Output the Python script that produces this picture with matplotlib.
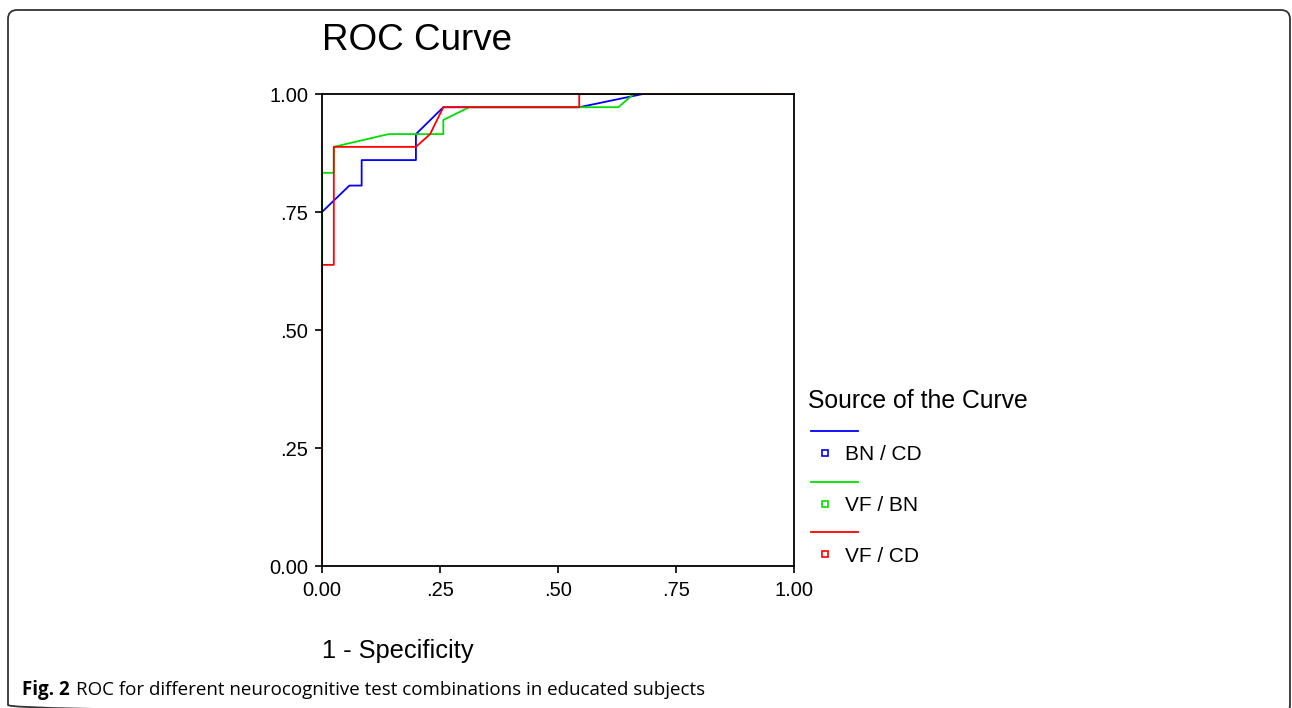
import matplotlib
matplotlib.use("Agg")
import matplotlib.pyplot as plt
from matplotlib.lines import Line2D
from matplotlib.patches import FancyBboxPatch

# ROC points (1 - specificity, sensitivity)
bn_cd_x = [0.0, 0.0, 0.058, 0.084, 0.084, 0.199, 0.199, 0.257, 0.545, 0.68, 1.0]
bn_cd_y = [0.0, 0.75, 0.806, 0.806, 0.860, 0.860, 0.915, 0.972, 0.972, 1.0, 1.0]

vf_bn_x = [0.0, 0.0, 0.025, 0.025, 0.141, 0.257, 0.257, 0.312, 0.628, 0.66, 1.0]
vf_bn_y = [0.0, 0.833, 0.833, 0.888, 0.915, 0.915, 0.945, 0.972, 0.972, 1.0, 1.0]

vf_cd_x = [0.0, 0.0, 0.025, 0.025, 0.199, 0.229, 0.257, 0.545, 0.545, 1.0]
vf_cd_y = [0.0, 0.638, 0.638, 0.888, 0.888, 0.915, 0.972, 0.972, 1.0, 1.0]

series = [
    ("BN / CD", bn_cd_x, bn_cd_y, "#0000ff"),
    ("VF / BN", vf_bn_x, vf_bn_y, "#00e000"),
    ("VF / CD", vf_cd_x, vf_cd_y, "#ff0000"),
]

ticks = [0.0, 0.25, 0.5, 0.75, 1.0]
tick_labels = ["0.00", ".25", ".50", ".75", "1.00"]

W, H = 1292, 708
plt.rcParams["font.family"] = ["Liberation Sans", "DejaVu Sans"]
fig = plt.figure(figsize=(W / 100, H / 100), dpi=100)

# outer rounded frame, drawn in pixel coordinates
bg = fig.add_axes([0, 0, 1, 1])
bg.set_xlim(0, W)
bg.set_ylim(H, 0)
bg.axis("off")
bg.add_patch(FancyBboxPatch((8, 10), 1282, 704,
                            boxstyle="round,pad=0,rounding_size=9",
                            fill=False, edgecolor="#333333", linewidth=1.3))

ax = fig.add_axes([322 / W, 1 - 566 / H, 472 / W, 472 / H])
for name, xs, ys, col in series:
    ax.plot(xs, ys, color=col, linewidth=1.3)

ax.set_xlim(0, 1)
ax.set_ylim(0, 1)
ax.set_xticks(ticks)
ax.set_xticklabels(tick_labels)
ax.set_yticks(ticks)
ax.set_yticklabels(tick_labels)
ax.tick_params(labelsize=14.5, length=5, width=1.2, direction="out")
ax.tick_params(axis="x", pad=5.5)
ax.tick_params(axis="y", pad=5)
for s in ax.spines.values():
    s.set_linewidth(1.3)
    s.set_color("black")

fig.text(322 / W, 1 - 41 / H, "ROC Curve", fontsize=26.5, va="center", ha="left")
fig.text(322 / W, 1 - 651 / H, "1 - Specificity", fontsize=18.3, va="center", ha="left")

# legend drawn by hand
fig.text(808 / W, 1 - 401 / H, "Source of the Curve", fontsize=17.8, va="center", ha="left")
for i, (name, xs, ys, col) in enumerate(series):
    y_line = 431 + i * 50.5
    y_lab = 455 + i * 50.5
    fig.add_artist(Line2D([811 / W, 858 / W], [1 - y_line / H, 1 - y_line / H],
                          color=col, linewidth=1.3, transform=fig.transFigure))
    fig.add_artist(Line2D([825 / W], [1 - (y_lab - 2) / H], marker="s", markersize=5,
                          markerfacecolor="white", markeredgecolor=col,
                          markeredgewidth=1.2, linestyle="none",
                          transform=fig.transFigure))
    fig.text(845 / W, 1 - y_lab / H, name, fontsize=15, va="center", ha="left")

# caption: bold label, then the body right after it
lab = fig.text(22 / W, 1 - 690 / H, "Fig. 2", fontsize=13.5, fontweight="bold",
               family="Open Sans", va="center", ha="left")
bb = lab.get_window_extent(renderer=fig.canvas.get_renderer())
fig.text((bb.x1 + 6) / W, 1 - 690 / H,
         "ROC for different neurocognitive test combinations in educated subjects",
         fontsize=13.5, family="Open Sans", va="center", ha="left")

fig.savefig("out.png", dpi=100)
